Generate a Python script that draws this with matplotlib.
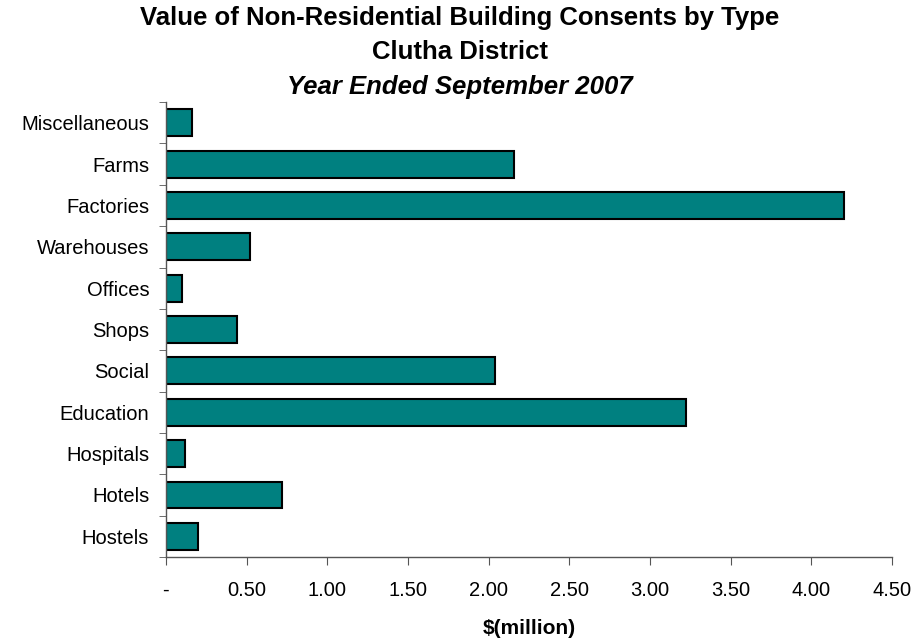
import matplotlib
matplotlib.use("Agg")
import matplotlib.pyplot as plt
import numpy as np

categories = ["Hostels", "Hotels", "Hospitals", "Education", "Social", "Shops",
              "Offices", "Warehouses", "Factories", "Farms", "Miscellaneous"]
values = [0.20, 0.72, 0.12, 3.22, 2.04, 0.44, 0.10, 0.52, 4.20, 2.16, 0.16]
xticks = [0, 0.5, 1.0, 1.5, 2.0, 2.5, 3.0, 3.5, 4.0, 4.5]
xlabels = ["-", "0.50", "1.00", "1.50", "2.00", "2.50", "3.00", "3.50", "4.00", "4.50"]

plt.rcParams['font.family'] = ['Liberation Sans', 'DejaVu Sans']

fig = plt.figure(figsize=(9.16, 6.42), dpi=100)
ax = fig.add_axes([0.181, 0.1324, 0.793, 0.7086])

y = np.arange(len(categories))
ax.barh(y, values, height=0.65, color="#008080", edgecolor="black", linewidth=1.5)

ax.set_xlim(0, 4.5)
ax.set_ylim(-0.5, len(categories) - 0.5)
ax.set_xticks(xticks)
ax.set_xticklabels(xlabels, fontsize=14.5)
ax.set_yticks(y)
ax.set_yticklabels(categories, fontsize=14.5)
ax.set_yticks(np.arange(-0.5, len(categories)), minor=True)
ax.tick_params(axis='y', which='major', length=0, pad=12)
ax.tick_params(axis='y', which='minor', length=5, color='#555555', direction='out')
ax.tick_params(axis='x', length=6, color='#555555', pad=11)

for s in ['top', 'right']:
    ax.spines[s].set_visible(False)
for s in ['left', 'bottom']:
    ax.spines[s].set_color('#555555')
    ax.spines[s].set_linewidth(1.0)

ax.set_xlabel("$(million)", fontsize=15, fontweight='bold', labelpad=14)

fig.text(0.502, 0.972, "Value of Non-Residential Building Consents by Type",
         ha='center', va='center', fontsize=18.5, fontweight='bold')
fig.text(0.502, 0.919, "Clutha District", ha='center', va='center',
         fontsize=18.5, fontweight='bold')
fig.text(0.502, 0.864, "Year Ended September 2007", ha='center', va='center',
         fontsize=18.5, fontweight='bold', style='italic')

fig.savefig("out.png", dpi=100)
